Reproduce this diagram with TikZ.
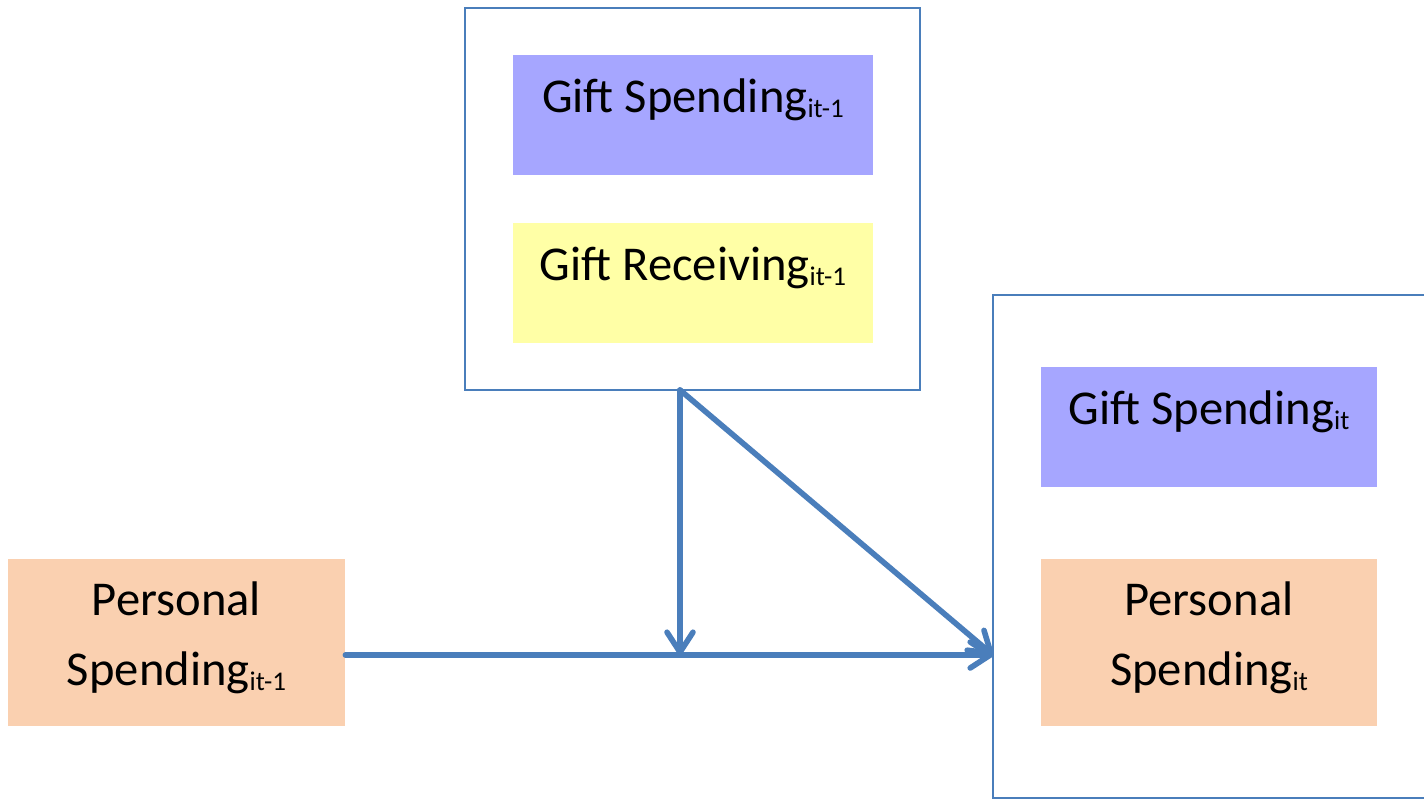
\documentclass[tikz,border=0pt]{standalone}
\usepackage{fontspec}
\setmainfont{Carlito}
\usepackage{tikz}
\usetikzlibrary{arrows.meta}
\definecolor{linkblue}{RGB}{74,126,187}
\definecolor{spendblue}{RGB}{166,166,255}
\definecolor{recyellow}{RGB}{255,255,166}
\definecolor{persorange}{RGB}{250,208,176}
\newcommand{\subs}[1]{\raisebox{-2.5pt}{\fontsize{13.5}{16}\selectfont #1}}
\tikzset{
	frame/.style={draw=linkblue, line width=1pt, fill=white},
	onebox/.style={inner ysep=0pt, text height=28.5pt, text depth=31.5pt, font=\fontsize{24.3}{35}\selectfont},
	twobox/.style={align=center, font=\fontsize{24.3}{35}\selectfont},
	link/.style={draw=linkblue, line width=2.8pt, line cap=round, -{Straight Barb[length=10pt, width=13pt, line width=2.8pt, round]}}
}
\begin{document}
\begin{tikzpicture}[x=0.5pt, y=-0.5pt]
					\clip (0, 0) rectangle (1424, 800);
					\fill[white] (0, 0) rectangle (1424, 800);
					\node[frame, minimum width=227.5pt, minimum height=191pt] (topbox) at (692.5, 199) {};
					\node[frame, minimum width=233.5pt, minimum height=251.5pt] (rightbox) at (1226.5, 546.5) {};
					\node[onebox, fill=spendblue, minimum width=180pt] (giftspendprev) at (693, 115) {Gift Spending\subs{it-1}};
					\node[onebox, fill=recyellow, minimum width=180pt] (giftrecprev) at (693, 283) {Gift Receiving\subs{it-1}};
					\node[onebox, fill=spendblue, minimum width=168pt] (giftspend) at (1209, 427) {Gift Spending\subs{it}};
					\node[twobox, fill=persorange, minimum width=168.5pt, minimum height=83.5pt] (personalprev) at (176.5, 642.5) {Personal\\Spending\subs{it-1}\vspace{5pt}};
					\node[twobox, fill=persorange, minimum width=168pt, minimum height=83.5pt] (personal) at (1209, 642.5) {Personal\\Spending\subs{it}\vspace{5pt}};
					\coordinate (fork) at (680, 390);
					\coordinate (hit) at (993, 655);
					\draw[link] (personalprev.east |- hit) -- (hit);
					\draw[link] (fork) -- (fork |- hit);
					\draw[link] (fork) -- (hit);
				\end{tikzpicture}
\end{document}
